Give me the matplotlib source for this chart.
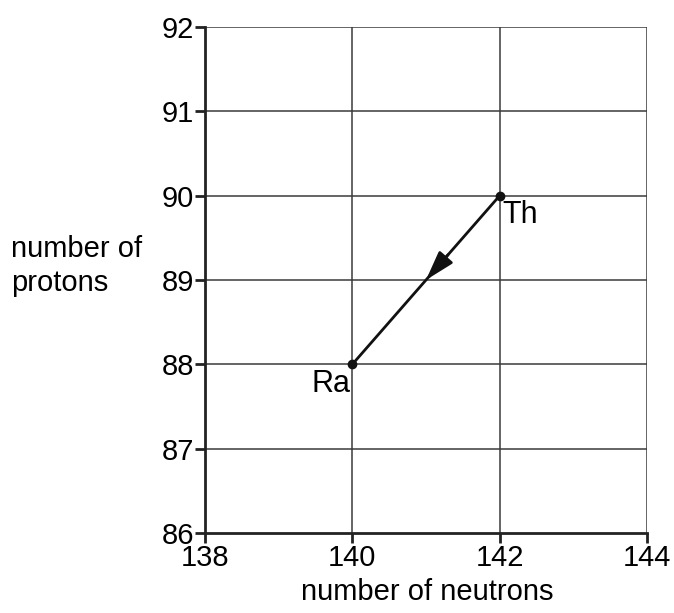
import numpy as np
import matplotlib.pyplot as plt

plt.rcParams['font.family'] = ['Liberation Sans', 'DejaVu Sans']

neutrons = [142, 140]
protons = [90, 88]
names = ["Th", "Ra"]
xTicks = [138, 140, 142, 144]
yTicks = [86, 87, 88, 89, 90, 91, 92]

fig = plt.figure(figsize=(6.74, 6.13), dpi=100)
ax = fig.add_axes([205 / 674, 1 - 533 / 613, 442 / 674, 506 / 613])

ax.set_xlim(138, 144)
ax.set_ylim(86, 92)
ax.set_xticks(xTicks)
ax.set_yticks(yTicks)
ax.tick_params(labelsize=21, length=7, width=2, color='#222222', pad=1)

# grid drawn by hand so x lines sit only at the labelled ticks
for x in xTicks[1:]:
    ax.axvline(x, color='#3a3a3a', lw=1.1, zorder=1)
for y in yTicks[1:]:
    ax.axhline(y, color='#3a3a3a', lw=1.1, zorder=1)

for side in ['top', 'right']:
    ax.spines[side].set_visible(False)
for side in ['left', 'bottom']:
    ax.spines[side].set_linewidth(2)
    ax.spines[side].set_color('#222222')

# decay path with arrowhead half way
ax.plot(neutrons, protons, color='#111111', lw=2, zorder=3)
ax.plot(neutrons, protons, 'o', color='#111111', ms=6, zorder=4)
midX = np.mean(neutrons)
midY = np.mean(protons)
ax.annotate("", xy=(midX, midY), xytext=(midX + 0.3, midY + 0.3),
            arrowprops=dict(arrowstyle='-|>,head_length=1.8,head_width=0.55',
                            color='#111111', lw=2, shrinkA=0, shrinkB=0), zorder=5)

ax.text(neutrons[0] + 0.03, protons[0] - 0.05, names[0], fontsize=22, ha='left', va='top')
ax.text(neutrons[1] - 0.02, protons[1] - 0.05, names[1], fontsize=22, ha='right', va='top')

fig.text(11 / 674, 1 - 266 / 613, "number of\nprotons", fontsize=21, ha='left', va='center',
         linespacing=1.25)
fig.text(427 / 674, 1 - 592 / 613, "number of neutrons", fontsize=21, ha='center', va='center')

plt.savefig("out.png", dpi=100)
